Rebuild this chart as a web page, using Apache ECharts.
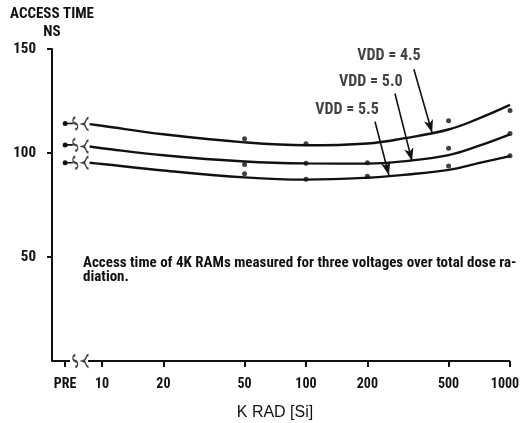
<!DOCTYPE html>
<html>
<head>
<meta charset="utf-8">
<script src="https://cdn.jsdelivr.net/npm/echarts@6/dist/echarts.min.js"></script>
<style>
  html, body { margin: 0; padding: 0; background: #fff; }
  #chart { width: 520px; height: 423px; }
</style>
</head>
<body>
<div id="chart"></div>
<script>
// 数据（剂量 K RAD，访问时间 ns）
const voltages = ['VDD = 4.5', 'VDD = 5.0', 'VDD = 5.5'];
const curveDose = [8.7, 10, 20, 50, 100, 200, 300, 500, 700, 1000];
const curve45 = [113.9, 113.1, 109.0, 105.1, 103.7, 104.6, 107.0, 111.3, 116.5, 123.1];
const curve50 = [103.1, 102.3, 98.9, 95.9, 95.0, 94.9, 96.0, 99.0, 103.4, 109.0];
const curve55 = [95.3, 94.7, 91.6, 88.3, 87.2, 88.1, 89.5, 91.9, 95.1, 98.5];
const pointDose45 = [50, 100, 500, 1000];
const points45 = [106.9, 104.5, 115.5, 120.4];
const pointDose = [50, 100, 200, 500, 1000];
const points50 = [94.5, 95.1, 95.3, 102.3, 109.4];
const points55 = [90.0, 87.4, 88.8, 93.7, 98.7];
const preValues = [114.2, 103.9, 95.3];
const tickDoses = [6.6, 10, 20, 50, 100, 200, 500, 1000];
const tickLabels = ['PRE', '10', '20', '50', '100', '200', '500', '1000'];
const yTicks = [50, 100, 150];
// 标注：标签位置和箭头（剂量, ns）
const labelPos = [[255, 146.6], [208, 134.0], [159, 120.9]];
const arrowTail = [[338, 140.3], [273, 128.6], [218, 115.0]];
const arrowTip = [[415, 109.7], [331, 96.1], [255, 89.3]];

const PRE_DOSE = 6.6;
const STUB_END = 7.2;
const BREAK_A = 7.4;
const BREAK_B = 8.35;
const AXIS_GAP_START = 6.97;
const AXIS_GAP_END = 8.55;
const X_MIN = 5.69;
const X_MAX = 1000;

const lg = Math.log10;
const ink = '#111';
const narrow = "'Roboto Condensed', 'Open Sans Condensed', sans-serif";

const zip = (xs, ys) => xs.map((x, i) => [lg(x), ys[i]]);

const curves = [curve45, curve50, curve55];
const pointSets = [[pointDose45, points45], [pointDose, points50], [pointDose, points55]];

const pathTilde = 'path://M3,0 C0,1 0,5 3,6 C6,7 6,11 3,12';
const pathBrace = 'path://M6,0 C2,0 4,5 0,6 C4,7 2,12 6,12';

const series = [];

curves.forEach((c, i) => {
  series.push({
    name: voltages[i],
    type: 'line',
    smooth: 0.4,
    showSymbol: false,
    data: zip(curveDose, c),
    lineStyle: { color: ink, width: 2.4 },
    silent: true
  });
  series.push({
    type: 'scatter',
    data: zip(pointSets[i][0], pointSets[i][1]),
    symbol: 'circle',
    symbolSize: 5,
    itemStyle: { color: ink },
    silent: true
  });
  // PRE 点及短线
  series.push({
    type: 'line',
    data: [
      { value: [lg(PRE_DOSE), preValues[i]], symbol: 'circle', symbolSize: 5 },
      { value: [lg(STUB_END), preValues[i]], symbol: 'none' }
    ],
    lineStyle: { color: ink, width: 1.6 },
    itemStyle: { color: ink },
    silent: true
  });
});

// 断裂符号（曲线和横轴）
const breakA = preValues.map(v => [lg(BREAK_A), v]).concat([[lg(BREAK_A), 0]]);
const breakB = curves.map(c => [lg(BREAK_B), c[0]]).concat([[lg(BREAK_B), 0]]);
series.push({
  type: 'scatter', data: breakA, symbol: pathTilde, symbolSize: [5, 12],
  itemStyle: { color: 'none', borderColor: ink, borderWidth: 1.6 }, silent: true, clip: false
});
series.push({
  type: 'scatter', data: breakB, symbol: pathBrace, symbolSize: [5, 12],
  itemStyle: { color: 'none', borderColor: ink, borderWidth: 1.6 }, silent: true, clip: false
});

// 横轴线（两段）
[[X_MIN, AXIS_GAP_START], [AXIS_GAP_END, X_MAX]].forEach(seg => {
  series.push({
    type: 'line',
    showSymbol: false,
    clip: false,
    data: [[lg(seg[0]), 0], [lg(seg[1]), 0]],
    lineStyle: { color: ink, width: 2 },
    silent: true
  });
});

// VDD 标签和箭头
series.push({
  type: 'scatter',
  symbolSize: 0,
  data: labelPos.map((p, i) => ({ name: voltages[i], value: [lg(p[0]), p[1]] })),
  label: {
    show: true,
    position: 'inside',
    formatter: '{b}',
    color: ink,
    fontFamily: narrow,
    fontWeight: 'bold',
    fontSize: 16
  },
  silent: true,
  markLine: {
    silent: true,
    symbol: ['none', 'arrow'],
    symbolSize: [7, 13],
    label: { show: false },
    lineStyle: { color: ink, width: 1.6, type: 'solid' },
    data: arrowTail.map((t, i) => [
      { coord: [lg(t[0]), t[1]] },
      { coord: [lg(arrowTip[i][0]), arrowTip[i][1]] }
    ])
  }
});

const chart = echarts.init(document.getElementById('chart'));
chart.setOption({
  animation: false,
  backgroundColor: '#fff',
  title: {
    text: 'Access time of 4K RAMs measured for three voltages over total dose ra-\ndiation.',
    left: 83,
    top: 256,
    padding: 0,
    textStyle: {
      color: ink,
      fontFamily: narrow,
      fontWeight: 'bold',
      fontSize: 15,
      lineHeight: 14
    }
  },
  grid: { left: 52, right: 10, top: 49, bottom: 62, outerBoundsMode: 'none' },
  xAxis: {
    type: 'value',
    min: lg(X_MIN),
    max: lg(X_MAX),
    name: 'K RAD [Si]',
    nameLocation: 'middle',
    nameGap: 44,
    nameTextStyle: {
      color: ink,
      fontFamily: "'Liberation Sans', Arial, sans-serif",
      fontSize: 16,
      padding: [0, 12, 0, 0]
    },
    axisLine: { show: false },
    axisTick: {
      show: true,
      length: 6,
      lineStyle: { color: ink, width: 2 },
      customValues: tickDoses.map(lg)
    },
    axisLabel: {
      margin: 16,
      color: ink,
      fontFamily: narrow,
      fontWeight: 'bold',
      fontSize: 14,
      customValues: tickDoses.map(lg),
      formatter: function (v) {
        const i = tickDoses.findIndex(d => Math.abs(lg(d) - v) < 1e-4);
        if (i < 0) return '';
        return i === tickLabels.length - 1 ? '{last|' + tickLabels[i] + '}' : tickLabels[i];
      },
      rich: {
        last: {
          color: ink,
          fontFamily: narrow,
          fontWeight: 'bold',
          fontSize: 14,
          padding: [0, 10, 0, 0]
        }
      }
    },
    splitLine: { show: false }
  },
  yAxis: {
    type: 'value',
    min: 0,
    max: 150,
    name: 'ACCESS TIME\nNS',
    nameLocation: 'end',
    nameGap: 6,
    nameTextStyle: {
      color: ink,
      fontFamily: narrow,
      fontWeight: 'bold',
      fontSize: 15,
      lineHeight: 18,
      align: 'center'
    },
    axisLine: { show: true, lineStyle: { color: ink, width: 2 } },
    axisTick: {
      show: true,
      length: 5,
      lineStyle: { color: ink, width: 2 },
      customValues: yTicks
    },
    axisLabel: {
      margin: 16,
      color: ink,
      fontFamily: narrow,
      fontWeight: 'bold',
      fontSize: 15,
      customValues: yTicks
    },
    splitLine: { show: false }
  },
  series: series
});
</script>
</body>
</html>
